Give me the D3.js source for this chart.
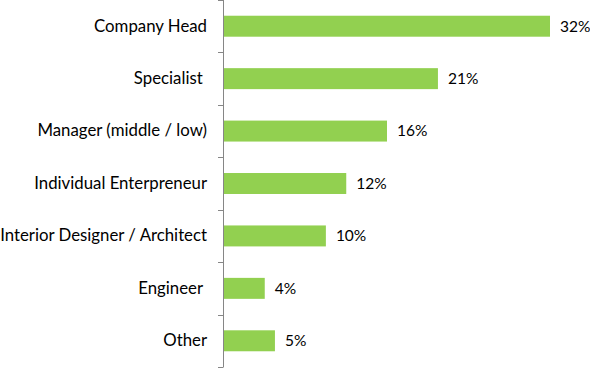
<!DOCTYPE html>
<html>
<head>
<meta charset="utf-8">
<script src="https://cdn.jsdelivr.net/npm/d3@7"></script>
<style>
  body { margin: 0; background: #fff; }
  svg { display: block; }
</style>
</head>
<body>
<script>
var categories = ["Company Head", "Specialist ", "Manager (middle / low)", "Individual Enterpreneur",
                  "Interior Designer / Architect", "Engineer ", "Other"];
var values = [32, 21, 16, 12, 10, 4, 5];

var margin = {top: 0, right: 40, bottom: 2, left: 223},
    width = 590 - margin.left - margin.right,
    height = 369 - margin.top - margin.bottom;

var svg = d3.select("body").append("svg")
    .attr("width", 590)
    .attr("height", 369)
  .append("g")
    .attr("transform", "translate(" + margin.left + "," + margin.top + ")");

// set the ranges
var y = d3.scaleBand()
          .domain(categories)
          .range([0, height])
          .paddingInner(0.6)
          .paddingOuter(0.3);
var x = d3.scaleLinear()
          .domain([0, 32])
          .range([1, 327]);

// bars
svg.selectAll(".bar")
    .data(values)
  .enter().append("rect")
    .attr("class", "bar")
    .attr("x", x(0))
    .attr("y", function(d, i) { return y(categories[i]); })
    .attr("width", function(d) { return x(d) - x(0); })
    .attr("height", y.bandwidth())
    .attr("fill", "#92d050");

// value labels
svg.selectAll(".val")
    .data(values)
  .enter().append("text")
    .attr("class", "val")
    .attr("x", function(d) { return x(d) + 10; })
    .attr("y", function(d, i) { return y(categories[i]) + y.bandwidth() / 2; })
    .attr("dy", "0.35em")
    .style("font-family", "Lato, sans-serif")
    .style("font-size", "15.5px")
    .style("fill", "#000")
    .text(function(d) { return d + "%"; });

// y axis with labels
var axis = svg.append("g")
    .call(d3.axisLeft(y).tickSize(0).tickPadding(16));
axis.select(".domain").remove();
axis.selectAll("text")
    .style("font-family", "Lato, sans-serif")
    .style("font-size", "16.8px")
    .style("fill", "#000")
    .style("white-space", "pre");

// axis line and boundary ticks between categories
svg.append("line")
    .attr("x1", 0.5).attr("x2", 0.5)
    .attr("y1", 0).attr("y2", height)
    .attr("stroke", "#868686");
var bounds = d3.range(categories.length + 1).map(function(i) { return i * height / categories.length; });
svg.selectAll(".btick")
    .data(bounds)
  .enter().append("line")
    .attr("class", "btick")
    .attr("x1", -5).attr("x2", 0.5)
    .attr("y1", function(d) { return Math.round(d) + 0.5; })
    .attr("y2", function(d) { return Math.round(d) + 0.5; })
    .attr("stroke", "#868686");
</script>
</body>
</html>
